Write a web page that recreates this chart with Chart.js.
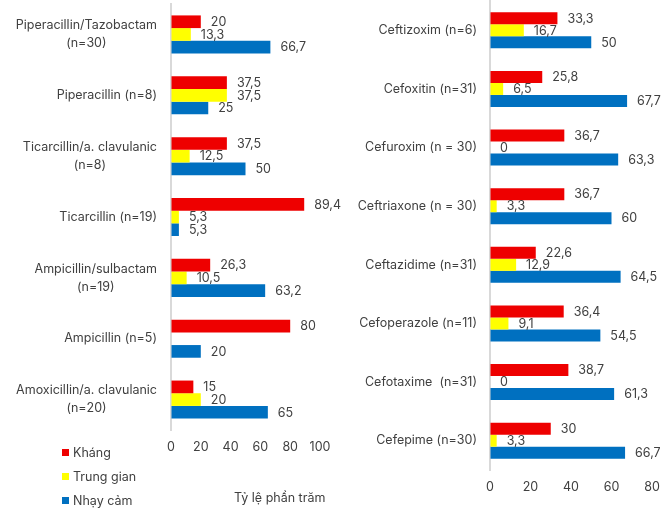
<!DOCTYPE html>
<html>
<head>
<meta charset="utf-8">
<script src="https://cdn.jsdelivr.net/npm/chart.js@4.4.1/dist/chart.umd.min.js"></script>
<style>
  html, body { margin: 0; padding: 0; background: #ffffff; }
  #wrap { position: relative; width: 661px; height: 510px; overflow: hidden; font-family: Inter, "Open Sans", sans-serif; color: #404040; }
  #leftBox { position: absolute; left: 0; top: 0; width: 345px; height: 510px; }
  #rightBox { position: absolute; left: 330px; top: 0; width: 331px; height: 510px; }
  #legend { position: absolute; left: 62px; top: 440px; font-size: 12.5px; }
  #legend .item { display: flex; align-items: center; height: 24px; }
  #legend .sw { width: 7px; height: 7px; margin-right: 4px; }
  #axisTitle { position: absolute; left: 234px; top: 490px; font-size: 12.5px; white-space: nowrap; }
</style>
</head>
<body>
<div id="wrap">
  <div id="leftBox"><canvas id="leftChart" width="345" height="510"></canvas></div>
  <div id="rightBox"><canvas id="rightChart" width="331" height="510"></canvas></div>
  <div id="legend"></div>
  <div id="axisTitle">Tỷ lệ phần trăm</div>
</div>
<script>
// Series names and colours
const seriesNames = ["Kháng", "Trung gian", "Nhạy cảm"];
const seriesColors = ["#EE0000", "#FFFF00", "#0070C0"];

// Penicillin group (left panel)
const penicillinLabels = [
  ["Piperacillin/Tazobactam", "(n=30)"],
  "Piperacillin (n=8)",
  ["Ticarcillin/a. clavulanic", "(n=8)"],
  "Ticarcillin (n=19)",
  ["Ampicillin/sulbactam", "(n=19)"],
  "Ampicillin (n=5)",
  ["Amoxicillin/a. clavulanic", "(n=20)"]
];
const penicillinKhang = [20, 37.5, 37.5, 89.4, 26.3, 80, 15];
const penicillinTrungGian = [13.3, 37.5, 12.5, 5.3, 10.5, null, 20];
const penicillinNhayCam = [66.7, 25, 50, 5.3, 63.2, 20, 65];
const penicillinTicks = [0, 20, 40, 60, 80, 100];

// Cephalosporin group (right panel)
const cephalosporinLabels = [
  "Ceftizoxim (n=6)",
  "Cefoxitin (n=31)",
  "Cefuroxim (n = 30)",
  "Ceftriaxone (n = 30)",
  "Ceftazidime (n=31)",
  "Cefoperazole (n=11)",
  "Cefotaxime  (n=31)",
  "Cefepime (n=30)"
];
const cephalosporinKhang = [33.3, 25.8, 36.7, 36.7, 22.6, 36.4, 38.7, 30];
const cephalosporinTrungGian = [16.7, 6.5, 0, 3.3, 12.9, 9.1, 0, 3.3];
const cephalosporinNhayCam = [50, 67.7, 63.3, 60, 64.5, 54.5, 61.3, 66.7];
const cephalosporinTicks = [0, 20, 40, 60, 80];

const FONT_FAMILY = "Inter, 'Open Sans', sans-serif";
const FONT_SIZE = 12.5;
const TEXT_COLOR = "#404040";

Chart.defaults.font.family = FONT_FAMILY;
Chart.defaults.font.size = FONT_SIZE;
Chart.defaults.color = TEXT_COLOR;

// Value labels at the end of each bar, with comma decimals
const valueLabels = {
  id: "valueLabels",
  afterDatasetsDraw(chart) {
    const ctx = chart.ctx;
    ctx.save();
    ctx.font = FONT_SIZE + "px " + FONT_FAMILY;
    ctx.fillStyle = TEXT_COLOR;
    ctx.textAlign = "left";
    ctx.textBaseline = "middle";
    chart.data.datasets.forEach((ds, di) => {
      const meta = chart.getDatasetMeta(di);
      meta.data.forEach((bar, i) => {
        const v = ds.data[i];
        if (v === null || v === undefined) return;
        ctx.fillText(String(v).replace(".", ","), bar.x + 10, bar.y + 0.5);
      });
    });
    ctx.restore();
  }
};

// Category names: block right-aligned to the axis, lines centred in the block
const categoryLabels = {
  id: "categoryLabels",
  afterDraw(chart) {
    const ctx = chart.ctx;
    const yScale = chart.scales.y;
    const gap = chart.options.plugins.categoryLabels.gap;
    const lineH = 18;
    ctx.save();
    ctx.font = FONT_SIZE + "px " + FONT_FAMILY;
    ctx.fillStyle = TEXT_COLOR;
    ctx.textBaseline = "middle";
    ctx.textAlign = "center";
    chart.data.labels.forEach((lab, i) => {
      const lines = Array.isArray(lab) ? lab : [lab];
      const y = yScale.getPixelForTick(i);
      const blockW = Math.max(...lines.map(l => ctx.measureText(l).width));
      const right = chart.chartArea.left - gap;
      const cx = right - blockW / 2;
      lines.forEach((l, j) => {
        ctx.fillText(l, cx, y + (j - (lines.length - 1) / 2) * lineH);
      });
    });
    ctx.restore();
  }
};

function buildChart(canvasId, labels, khang, trungGian, nhayCam, ticks, cfg) {
  const data = {
    labels: labels,
    datasets: [khang, trungGian, nhayCam].map((vals, k) => ({
      label: seriesNames[k],
      data: vals,
      backgroundColor: seriesColors[k],
      borderWidth: 0,
      categoryPercentage: cfg.catPct,
      barPercentage: 1
    }))
  };
  return new Chart(document.getElementById(canvasId), {
    type: "bar",
    data: data,
    plugins: [valueLabels, categoryLabels],
    options: {
      indexAxis: "y",
      responsive: false,
      devicePixelRatio: 1,
      animation: false,
      layout: { padding: { top: cfg.top, right: cfg.right, bottom: 0, left: 0 } },
      plugins: {
        legend: { display: false },
        tooltip: { enabled: false },
        categoryLabels: { gap: cfg.gap }
      },
      scales: {
        y: {
          type: "category",
          ticks: { display: false },
          grid: { display: false, drawTicks: false },
          border: { display: true, color: "#d9d9d9", width: 2 },
          afterFit(scale) { scale.width = cfg.axisLeft; }
        },
        x: {
          min: ticks[0],
          max: ticks[ticks.length - 1],
          afterBuildTicks(scale) { scale.ticks = ticks.map(v => ({ value: v })); },
          ticks: { padding: 0, color: TEXT_COLOR, font: { size: FONT_SIZE } },
          grid: { display: true, drawOnChartArea: false, drawTicks: true, tickLength: 10, color: "rgba(0,0,0,0)" },
          border: { display: false },
          afterFit(scale) { scale.height = cfg.xHeight; }
        }
      }
    }
  });
}

buildChart("leftChart", penicillinLabels, penicillinKhang, penicillinTrungGian, penicillinNhayCam, penicillinTicks,
  { catPct: 0.625, top: 4, right: 25, gap: 14, axisLeft: 171, xHeight: 80 });
buildChart("rightChart", cephalosporinLabels, cephalosporinKhang, cephalosporinTrungGian, cephalosporinNhayCam, cephalosporinTicks,
  { catPct: 0.615, top: 1, right: 9, gap: 13, axisLeft: 160, xHeight: 40 });

// Legend entries from the series definitions
const legendEl = document.getElementById("legend");
seriesNames.forEach((name, k) => {
  const item = document.createElement("div");
  item.className = "item";
  const sw = document.createElement("span");
  sw.className = "sw";
  sw.style.background = seriesColors[k];
  const tx = document.createElement("span");
  tx.textContent = name;
  item.appendChild(sw);
  item.appendChild(tx);
  legendEl.appendChild(item);
});
</script>
</body>
</html>
